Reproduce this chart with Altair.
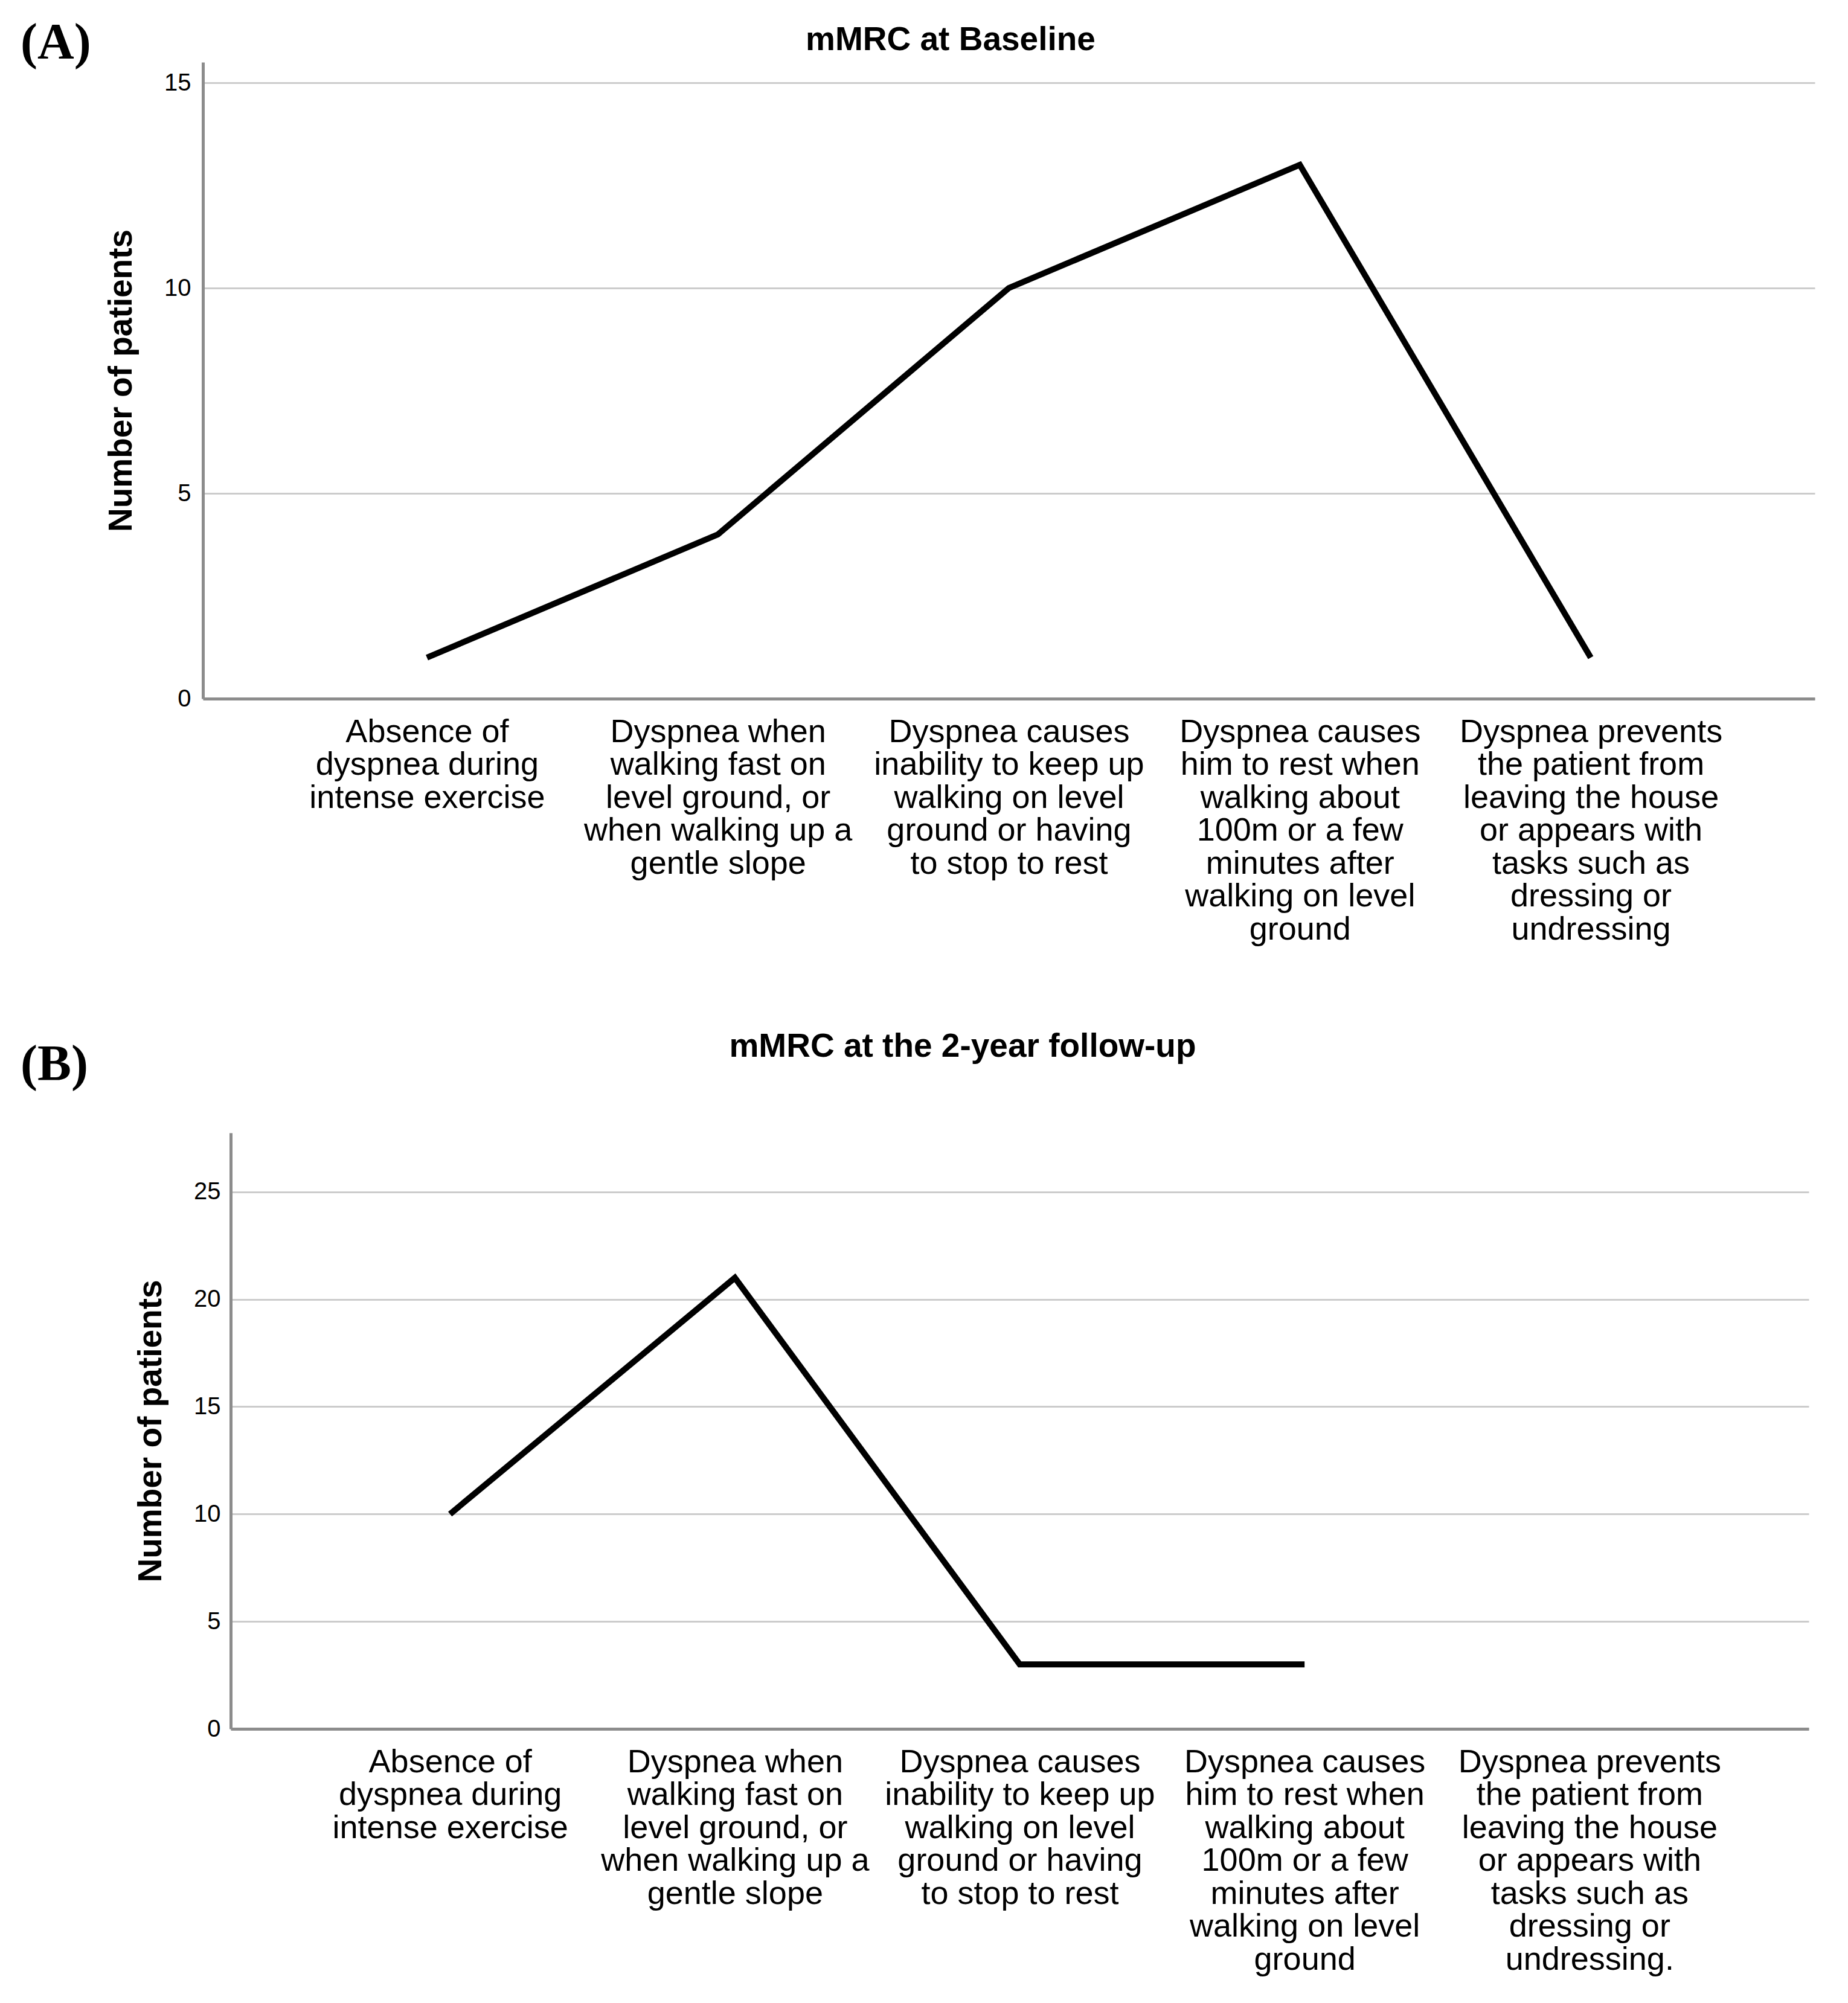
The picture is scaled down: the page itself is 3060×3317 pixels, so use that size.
import altair as alt
import pandas as pd

# ---- data ----
categories_a = [
    "Absence of|dyspnea during|intense exercise",
    "Dyspnea when|walking fast on|level ground, or|when walking up a|gentle slope",
    "Dyspnea causes|inability to keep up|walking on level|ground or having|to stop to rest",
    "Dyspnea causes|him to rest when|walking about|100m or a few|minutes after|walking on level|ground",
    "Dyspnea prevents|the patient from|leaving the house|or appears with|tasks such as|dressing or|undressing",
]
categories_b = [
    "Absence of|dyspnea during|intense exercise",
    "Dyspnea when|walking fast on|level ground, or|when walking up a|gentle slope",
    "Dyspnea causes|inability to keep up|walking on level|ground or having|to stop to rest",
    "Dyspnea causes|him to rest when|walking about|100m or a few|minutes after|walking on level|ground",
    "Dyspnea prevents|the patient from|leaving the house|or appears with|tasks such as|dressing or|undressing.",
]
patients_a = [1, 4, 10, 13, 1]
patients_b = [10, 21, 3, 3, None]
ticks_a = [0, 5, 10, 15]
ticks_b = [0, 5, 10, 15, 20, 25]
title_a = "mMRC at Baseline"
title_b = "mMRC at the 2-year follow-up"
tag_a = "(A)"
tag_b = "(B)"
y_title = "Number of patients"

SANS = "Liberation Sans, Arial, sans-serif"
SERIF = "Liberation Serif, Times New Roman, serif"
GRID = "#cccccc"
DOMAIN = "#8c8c8c"


def panel(cats, vals, ticks, title, tag, ymax, width, height, x_left,
          title_x, title_y, tag_x, tag_y, ytitle_x, ylab_pad):
    df = pd.DataFrame({"category": cats, "patients": vals})
    line = alt.Chart(df).mark_line(color="black", strokeWidth=10).encode(
        x=alt.X(
            "category:N",
            sort=cats,
            scale=alt.Scale(domain=cats, type="point", padding=0.77,
                            range=[x_left, width]),
            axis=alt.Axis(
                title=None,
                labelExpr="split(datum.label, '|')",
                labelAngle=0,
                labelFont=SANS,
                labelFontSize=54,
                labelLineHeight=54.5,
                labelPadding=28,
                labelBaseline="top",
                labelColor="black",
                labelLimit=2000,
                labelOverlap=False,
                ticks=False,
                tickSize=0,
                grid=False,
                domainColor=DOMAIN,
                domainWidth=5,
            ),
        ),
        y=alt.Y(
            "patients:Q",
            scale=alt.Scale(domain=[0, ymax], nice=False, zero=True),
            axis=alt.Axis(
                values=ticks,
                title=y_title,
                titleFont=SANS,
                titleFontSize=55,
                titleFontWeight="bold",
                titleColor="black",
                titleX=ytitle_x,
                titleY=height / 2,
                titleBaseline="middle",
                labelFont=SANS,
                labelFontSize=40,
                labelColor="black",
                labelPadding=ylab_pad,
                ticks=False,
                tickSize=0,
                grid=True,
                gridColor=GRID,
                gridWidth=3,
                domainColor=DOMAIN,
                domainWidth=5,
                offset=-x_left,
            ),
        ),
    )
    title_df = pd.DataFrame({"title": [title]})
    title_mark = alt.Chart(title_df).mark_text(
        font=SANS, fontWeight="bold", fontSize=55, align="center",
        baseline="alphabetic", color="black",
    ).encode(text="title:N", x=alt.value(title_x), y=alt.value(title_y))
    tag_df = pd.DataFrame({"tag": [tag]})
    tag_mark = alt.Chart(tag_df).mark_text(
        font=SERIF, fontWeight="bold", fontSize=84, align="left",
        baseline="alphabetic", color="black",
    ).encode(text="tag:N", x=alt.value(tag_x), y=alt.value(tag_y))
    return alt.layer(line, title_mark, tag_mark).properties(
        width=width, height=height
    )


# panel origin at x = 336 px of the figure for both panels
panel_a = panel(categories_a, patients_a, ticks_a, title_a, tag_a, 15.5,
                2669, 1054, 0, 1238, -20, -302, -6, -136, 20)
panel_b = panel(categories_b, patients_b, ticks_b, title_b, tag_b, 27.75,
                2659, 987, 46, 1258, -126, -302, -87, -133, 17)

chart = alt.vconcat(panel_a, panel_b, spacing=140).properties(
    padding={"left": 26, "top": 22, "right": 10, "bottom": 10},
    background="white",
).configure_view(stroke=None)

chart.save("out.html", embed_options={"renderer": "svg", "actions": False})
